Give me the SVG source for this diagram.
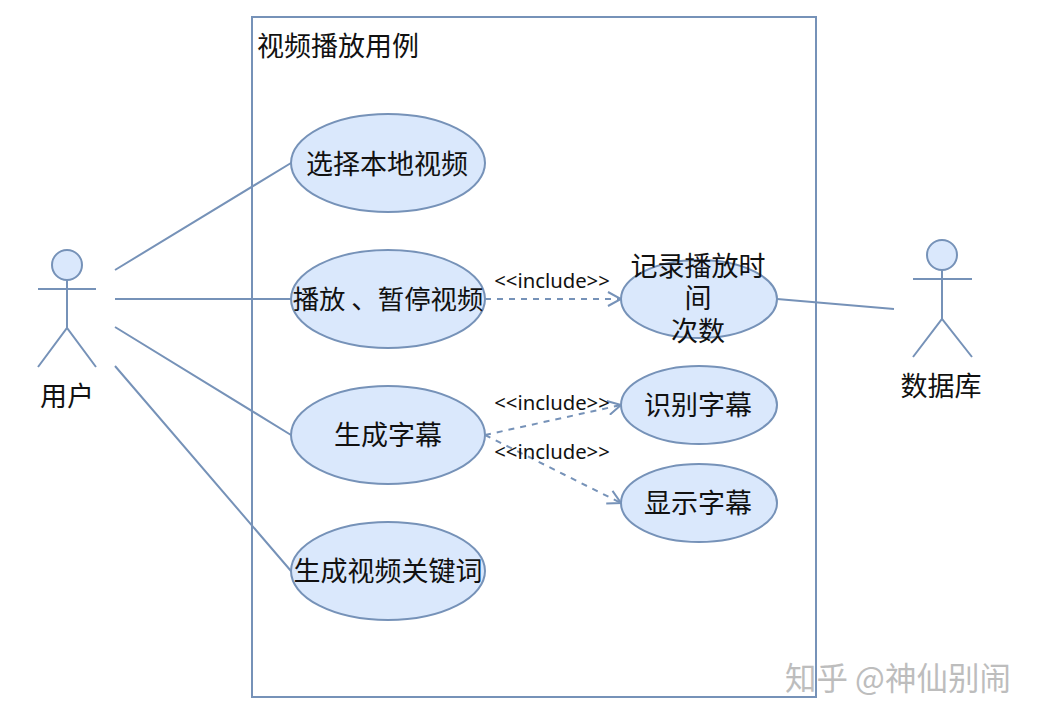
<svg xmlns="http://www.w3.org/2000/svg" width="1037" height="722" viewBox="0 0 1037 722">
<defs>
<style>
.s{stroke:#7692b8;stroke-width:2;fill:none}
.n{fill:#dae8fc;stroke:#7692b8;stroke-width:2}
.d{stroke:#7692b8;stroke-width:2;fill:none;stroke-dasharray:6 6}
text{font-family:"Noto Sans CJK SC","Noto Sans",sans-serif;fill:#111;text-anchor:middle}
.c{font-size:27px}
.i{font-family:"Noto Sans","Noto Sans CJK SC",sans-serif;font-size:20.3px}
</style>
<marker id="a" markerWidth="16" markerHeight="16" refX="14" refY="8" orient="auto" markerUnits="userSpaceOnUse"><path d="M1 1L14 8L1 15" fill="none" stroke="#7692b8" stroke-width="2"/></marker>
</defs>
<rect width="1037" height="722" fill="#fff"/>
<g id="boundary"><rect class="s" x="252" y="17" width="564" height="680"/><text class="c" x="338" y="56">视频播放用例</text></g>
<g id="connectors">
<path class="s" d="M115 270L291 163M115 299H291M115 327L291 435M115 366L291 571M777 299L894 309"/>
<path class="d" marker-end="url(#a)" d="M485 299H621"/>
<path class="d" marker-end="url(#a)" d="M485 435L621 405"/>
<path class="d" marker-end="url(#a)" d="M485 435L621 503"/>
</g>
<g id="actor-user"><circle class="n" cx="67" cy="265" r="15"/><path class="s" d="M67 280V328M38 289H96M38 367L67 328L96 367"/><text class="c" x="67" y="406">用户</text></g>
<g id="actor-db"><circle class="n" cx="942" cy="255" r="15"/><path class="s" d="M942 270V319M913 279H972M913 357L942 319L972 357"/><text class="c" x="941" y="396">数据库</text></g>
<g id="uc1"><ellipse class="n" cx="388" cy="163" rx="97" ry="49"/><text class="c" x="387" y="174">选择本地视频</text></g>
<g id="uc2"><ellipse class="n" cx="388" cy="299" rx="97" ry="49"/><text x="388" y="309" font-size="26.4">播放 、暂停视频</text></g>
<g id="uc3"><ellipse class="n" cx="388" cy="435" rx="97" ry="49"/><text class="c" x="388" y="445">生成字幕</text></g>
<g id="uc4"><ellipse class="n" cx="388" cy="571" rx="97" ry="49"/><text class="c" x="388" y="581">生成视频关键词</text></g>
<g id="uc5"><ellipse class="n" cx="699" cy="299" rx="78" ry="39"/><text class="c" x="698" y="276">记录播放时<tspan x="698" dy="32">间</tspan><tspan x="698" dy="33">次数</tspan></text></g>
<g id="uc6"><ellipse class="n" cx="699" cy="405" rx="78" ry="39"/><text class="c" x="698" y="415">识别字幕</text></g>
<g id="uc7"><ellipse class="n" cx="699" cy="503" rx="78" ry="39"/><text class="c" x="698" y="513">显示字幕</text></g>
<g id="labels"><text class="i" x="552" y="288">&lt;&lt;include&gt;&gt;</text><text class="i" x="552" y="410">&lt;&lt;include&gt;&gt;</text><text class="i" x="552" y="459">&lt;&lt;include&gt;&gt;</text></g>
<text x="898" y="690" font-size="31.5" style="fill:#bdbdbd">知乎 @神仙别闹</text>
</svg>
